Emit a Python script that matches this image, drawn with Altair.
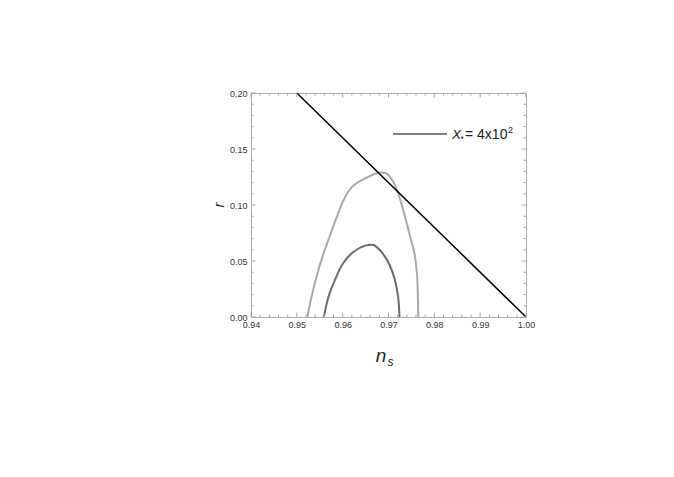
import altair as alt
import pandas as pd

# ---- data ----
ns_outer = [0.9523, 0.9532, 0.9547, 0.9561, 0.9569, 0.9577, 0.9592, 0.9601, 0.9610,
            0.9620, 0.9632, 0.9650, 0.9667, 0.9681, 0.9696, 0.9710, 0.9721, 0.9732,
            0.9741, 0.9749, 0.9756, 0.9762, 0.9764, 0.9765]
r_outer = [0.000, 0.018, 0.042, 0.060, 0.069, 0.078, 0.0945, 0.1035, 0.1105,
           0.1160, 0.1200, 0.1240, 0.1272, 0.129, 0.128, 0.121, 0.1105, 0.0955,
           0.082, 0.069, 0.058, 0.039, 0.019, 0.000]

ns_inner = [0.9559, 0.9569, 0.9583, 0.9601, 0.9623, 0.9649, 0.9667, 0.9685,
            0.9703, 0.9714, 0.9721, 0.9724]
r_inner = [0.000, 0.018, 0.033, 0.048, 0.058, 0.0637, 0.0643, 0.058,
           0.046, 0.033, 0.018, 0.000]

line_ns = [0.95, 1.00]
line_r = [0.20, 0.00]

x_major = [0.94, 0.95, 0.96, 0.97, 0.98, 0.99, 1.00]
x_minor = [0.942, 0.944, 0.946, 0.948, 0.952, 0.954, 0.956, 0.958,
           0.962, 0.964, 0.966, 0.968, 0.972, 0.974, 0.976, 0.978,
           0.982, 0.984, 0.986, 0.988, 0.992, 0.994, 0.996, 0.998]
y_major = [0.00, 0.05, 0.10, 0.15, 0.20]
y_minor = [0.01, 0.02, 0.03, 0.04, 0.06, 0.07, 0.08, 0.09,
           0.11, 0.12, 0.13, 0.14, 0.16, 0.17, 0.18, 0.19]

W, H = 275, 224
FONT = "Liberation Sans"
FRAME = "#a9a9a9"

xs = alt.Scale(domain=[0.94, 1.00], nice=False, zero=False)
ys = alt.Scale(domain=[0.0, 0.20], nice=False, zero=False)

contours = pd.DataFrame({
    "ns": ns_outer + ns_inner,
    "r": r_outer + r_inner,
    "curve": ["outer"] * len(ns_outer) + ["inner"] * len(ns_inner),
    "seq": list(range(len(ns_outer))) + list(range(len(ns_inner))),
})
line_df = pd.DataFrame({"ns": line_ns, "r": line_r})

x_axis = alt.Axis(values=x_major, format=".2f", ticks=False, domain=False, grid=False,
                  labelFontSize=9, labelColor="#333", labelFont=FONT, labelPadding=3,
                  labelFlush=False, labelOverlap=False, title=None)
y_axis = alt.Axis(values=y_major, format=".2f", ticks=False, domain=False, grid=False,
                  labelFontSize=9, labelColor="#333", labelFont=FONT, labelPadding=4,
                  labelFlush=False, labelOverlap=False, title=None)

contour_layer = alt.Chart(contours).mark_line(strokeWidth=2, strokeJoin="round",
                                              interpolate="catmull-rom").encode(
    x=alt.X("ns:Q", scale=xs, axis=x_axis),
    y=alt.Y("r:Q", scale=ys, axis=y_axis),
    color=alt.Color("curve:N", scale=alt.Scale(domain=["outer", "inner"],
                                                range=["#a8a8a8", "#6c6c6c"]), legend=None),
    detail="curve:N",
    order="seq:Q",
)

black_line = alt.Chart(line_df).mark_line(color="black", strokeWidth=1.5).encode(
    x=alt.X("ns:Q", scale=xs),
    y=alt.Y("r:Q", scale=ys),
)

def xticks(vals, length):
    df = pd.DataFrame({"v": vals})
    bottom = alt.Chart(df).mark_rule(color=FRAME, strokeWidth=1).encode(
        x=alt.X("v:Q", scale=xs), y=alt.value(H), y2=alt.value(H - length))
    top = alt.Chart(df).mark_rule(color=FRAME, strokeWidth=1).encode(
        x=alt.X("v:Q", scale=xs), y=alt.value(0), y2=alt.value(length))
    return [bottom, top]

def yticks(vals, length):
    df = pd.DataFrame({"v": vals})
    left = alt.Chart(df).mark_rule(color=FRAME, strokeWidth=1).encode(
        y=alt.Y("v:Q", scale=ys), x=alt.value(0), x2=alt.value(length))
    right = alt.Chart(df).mark_rule(color=FRAME, strokeWidth=1).encode(
        y=alt.Y("v:Q", scale=ys), x=alt.value(W), x2=alt.value(W - length))
    return [left, right]

tick_layers = (xticks(x_major, 4.5) + xticks(x_minor, 2.5)
               + yticks(y_major, 4.5) + yticks(y_minor, 2.5))

one = pd.DataFrame({"a": [0]})

def label(txt, x, y, size, italic=False, align="left", baseline="alphabetic", angle=0):
    kw = dict(text=txt, fontSize=size, font=FONT, align=align, baseline=baseline,
              color="#222")
    if italic:
        kw["fontStyle"] = "italic"
    if angle:
        kw["angle"] = angle
    return alt.Chart(one).mark_text(**kw).encode(x=alt.value(x), y=alt.value(y))

legend_line = alt.Chart(one).mark_rule(color="black", strokeWidth=1.2).encode(
    x=alt.value(142), x2=alt.value(196), y=alt.value(41))

texts = [
    label("n", 130, 269, 19, italic=True, align="center"),
    label("s", 139.5, 273, 12, italic=True, align="center"),
    label("r", -32, 112, 15, italic=True, align="center", baseline="middle", angle=270),
    label("X", 201, 46, 13.5, italic=True),
    label("*", 209.5, 49, 8.5),
    label("= 4x10", 214, 46, 14),
    label("2", 257, 39.5, 9),
]

chart = alt.layer(
    contour_layer, black_line, *tick_layers, legend_line, *texts
).properties(
    width=W, height=H,
    autosize=alt.AutoSizeParams(type="none"),
    padding={"left": 243, "top": 85, "right": 140, "bottom": 150},
).configure_view(
    stroke=FRAME, strokeWidth=1
)

chart.save("out.html", embed_options={"renderer": "svg", "actions": False})
